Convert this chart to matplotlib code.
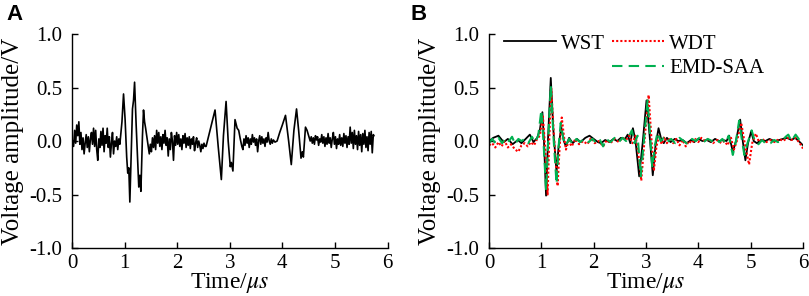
import matplotlib
matplotlib.use("Agg")
import matplotlib.pyplot as plt
from matplotlib.lines import Line2D

# ---------------- data ----------------
# Panel A: raw signal (time in us, voltage in V)
tA = [0.00, 0.03, 0.05, 0.07, 0.09, 0.11, 0.13, 0.15, 0.17, 0.19, 0.21, 0.23, 0.25, 0.27, 0.29,
      0.31, 0.33, 0.35, 0.37, 0.39, 0.41, 0.43, 0.45, 0.47, 0.49, 0.51, 0.53, 0.55, 0.57, 0.59,
      0.61, 0.63, 0.65, 0.67, 0.69, 0.71, 0.73, 0.75, 0.77, 0.79, 0.81, 0.83, 0.85, 0.87, 0.89,
      0.91, 0.95, 0.98, 1.01, 1.04, 1.06, 1.08, 1.10, 1.13, 1.15, 1.17, 1.19, 1.22, 1.25, 1.27,
      1.29, 1.31, 1.34, 1.36, 1.38, 1.40, 1.42, 1.45, 1.47, 1.49, 1.51, 1.53, 1.55, 1.57, 1.59,
      1.61, 1.63, 1.65, 1.67, 1.69, 1.71, 1.73, 1.75, 1.77, 1.79, 1.81, 1.83, 1.85, 1.87, 1.89,
      1.91, 1.93, 1.95, 1.97, 1.99, 2.01, 2.03, 2.05, 2.07, 2.09, 2.11, 2.13, 2.15, 2.17, 2.19,
      2.21, 2.23, 2.25, 2.27, 2.29, 2.31, 2.33, 2.35, 2.37, 2.39, 2.41, 2.43, 2.45, 2.47, 2.49,
      2.51, 2.53, 2.55, 2.60, 2.65, 2.72, 2.78, 2.84, 2.88, 2.93, 2.97, 3.01, 3.03, 3.06, 3.10,
      3.14, 3.17, 3.20, 3.23, 3.25, 3.27, 3.29, 3.31, 3.33, 3.35, 3.37, 3.39, 3.41, 3.43, 3.45,
      3.47, 3.49, 3.51, 3.53, 3.55, 3.57, 3.59, 3.61, 3.63, 3.65, 3.67, 3.69, 3.71, 3.73, 3.75,
      3.77, 3.79, 3.81, 3.83, 3.86, 3.90, 3.95, 4.00, 4.06, 4.12, 4.17, 4.22, 4.27, 4.31, 4.355,
      4.38, 4.40, 4.44, 4.47, 4.50, 4.53, 4.55, 4.57, 4.59, 4.61, 4.63, 4.65, 4.67, 4.69, 4.71,
      4.73, 4.75, 4.77, 4.79, 4.81, 4.83, 4.85, 4.87, 4.89, 4.91, 4.93, 4.95, 4.97, 4.99, 5.01,
      5.03, 5.05, 5.07, 5.09, 5.11, 5.13, 5.15, 5.17, 5.19, 5.21, 5.23, 5.25, 5.27, 5.29, 5.31,
      5.33, 5.35, 5.37, 5.39, 5.41, 5.43, 5.45, 5.47, 5.49, 5.51, 5.53, 5.55, 5.57, 5.59, 5.61,
      5.63, 5.65, 5.67, 5.69, 5.71, 5.73, 5.74]
vA = [0.02, -0.05, 0.10, -0.02, 0.15, 0.05, 0.18, -0.03, 0.08, -0.08, 0.03, -0.12, -0.02, 0.06, -0.06,
      0.04, -0.10, 0.02, 0.08, -0.03, 0.12, -0.05, 0.10, -0.08, -0.18, 0.02, -0.06, 0.09, -0.04, 0.12,
      -0.10, 0.05, -0.02, 0.12, -0.06, 0.04, -0.15, -0.02, 0.08, -0.12, 0.00, -0.05, 0.04, -0.08, 0.02,
      -0.03, 0.18, 0.44, 0.20, -0.15, -0.30, -0.25, -0.57, -0.05, 0.30, 0.38, 0.55, 0.15, -0.20, -0.43,
      -0.32, -0.47, 0.05, 0.29, 0.18, 0.12, 0.05, -0.05, -0.12, -0.03, -0.10, 0.03, -0.06, 0.05, -0.08,
      0.10, -0.02, 0.08, -0.05, 0.04, -0.08, 0.06, -0.02, 0.10, -0.04, 0.03, -0.14, 0.02, -0.08, 0.08,
      0.00, -0.18, 0.05, -0.04, 0.08, -0.03, 0.06, -0.05, 0.02, -0.08, 0.05, -0.02, 0.07, -0.06, 0.03,
      -0.04, 0.04, -0.07, 0.02, -0.03, 0.04, -0.09, -0.02, 0.03, -0.06, 0.00, -0.04, -0.10, -0.03, -0.07,
      -0.02, -0.05, -0.05, 0.05, 0.15, 0.29, -0.05, -0.36, 0.05, 0.37, 0.00, -0.24, -0.20, -0.28, 0.20,
      0.12, 0.10, 0.02, -0.05, -0.08, 0.02, -0.04, 0.05, -0.02, 0.03, -0.06, 0.02, -0.03, 0.06, -0.01,
      0.03, -0.04, 0.02, -0.10, 0.00, 0.05, -0.03, 0.04, -0.02, 0.02, -0.05, 0.03, -0.01, 0.08, 0.00,
      -0.03, 0.02, -0.02, 0.01, -0.01, 0.00, 0.08, 0.15, 0.24, 0.00, -0.22, 0.10, 0.30, 0.10, -0.16,
      -0.10, -0.15, 0.13, 0.10, 0.05, 0.00, 0.04, -0.02, 0.03, -0.03, 0.05, 0.01, 0.04, -0.04, 0.02,
      -0.01, 0.06, -0.02, 0.04, -0.05, 0.03, -0.03, 0.07, -0.02, 0.03, -0.06, 0.02, 0.08, -0.03, 0.04,
      -0.07, 0.02, -0.03, 0.06, -0.04, 0.03, -0.05, 0.07, -0.02, 0.05, -0.06, 0.04, -0.03, 0.13, -0.02,
      0.08, -0.07, 0.10, -0.03, 0.05, -0.08, 0.09, -0.04, 0.06, -0.10, 0.07, -0.03, 0.10, -0.06, 0.04,
      -0.09, 0.08, -0.03, 0.09, -0.11, 0.06, 0.05]

# Panel B: denoised signals
t_wst = [0.00, 0.08, 0.18, 0.28, 0.36, 0.45, 0.55, 0.62, 0.70, 0.78, 0.85, 0.92, 0.97, 1.02, 1.05,
         1.09, 1.13, 1.18, 1.23, 1.29, 1.33, 1.38, 1.43, 1.47, 1.53, 1.60, 1.68, 1.75, 1.84, 1.92,
         2.00, 2.08, 2.14, 2.22, 2.30, 2.38, 2.45, 2.52, 2.60, 2.65, 2.70, 2.75, 2.80, 2.87, 2.94,
         3.01, 3.07, 3.13, 3.18, 3.24, 3.29, 3.34, 3.40, 3.47, 3.55, 3.62, 3.70, 3.78, 3.86, 3.92,
         4.00, 4.08, 4.16, 4.24, 4.32, 4.40, 4.47, 4.54, 4.59, 4.66, 4.72, 4.80, 4.85, 4.90, 4.95,
         5.01, 5.06, 5.12, 5.20, 5.28, 5.36, 5.45, 5.55, 5.62, 5.70, 5.78, 5.85, 5.92, 6.00]
v_wst = [0.00, 0.03, 0.05, -0.01, 0.02, -0.03, 0.01, -0.02, 0.02, 0.06, -0.01, 0.03, 0.10, 0.27, 0.00,
         -0.51, 0.05, 0.59, 0.10, -0.29, -0.05, 0.13, 0.00, -0.05, 0.03, -0.02, 0.02, -0.01, 0.03, 0.05,
         0.02, -0.01, -0.02, 0.01, -0.01, 0.02, 0.00, 0.03, 0.02, 0.06, -0.02, 0.12, 0.00, -0.33, 0.00,
         0.38, 0.05, -0.32, -0.05, 0.12, 0.02, -0.02, 0.03, -0.01, 0.02, 0.00, 0.01, -0.02, 0.01, -0.01,
         0.02, 0.00, 0.01, -0.01, 0.02, 0.00, 0.01, 0.00, 0.05, -0.10, 0.00, 0.20, 0.00, -0.18, -0.02,
         0.09, 0.00, -0.02, 0.01, 0.00, 0.02, 0.00, 0.01, 0.02, 0.03, 0.01, 0.03, 0.00, -0.04]

t_wdt = [0.00, 0.06, 0.12, 0.18, 0.24, 0.30, 0.36, 0.42, 0.50, 0.56, 0.62, 0.68, 0.74, 0.80, 0.86,
         0.92, 0.97, 1.03, 1.07, 1.12, 1.15, 1.19, 1.24, 1.31, 1.35, 1.39, 1.43, 1.47, 1.52, 1.58,
         1.65, 1.72, 1.80, 1.88, 1.95, 2.02, 2.10, 2.18, 2.25, 2.32, 2.40, 2.48, 2.55, 2.62, 2.68,
         2.74, 2.80, 2.85, 2.91, 2.97, 3.05, 3.10, 3.15, 3.20, 3.25, 3.30, 3.35, 3.40, 3.46, 3.52,
         3.58, 3.64, 3.70, 3.76, 3.82, 3.88, 3.94, 4.00, 4.06, 4.12, 4.20, 4.28, 4.36, 4.44, 4.50,
         4.56, 4.62, 4.68, 4.75, 4.82, 4.88, 4.92, 4.97, 5.03, 5.10, 5.16, 5.22, 5.30, 5.38, 5.46,
         5.55, 5.62, 5.70, 5.78, 5.86, 5.94, 6.00]
v_wdt = [-0.04, -0.02, -0.06, -0.01, -0.05, 0.00, -0.06, -0.03, -0.08, -0.10, -0.04, -0.02, -0.05, -0.01, -0.04,
         0.02, 0.05, 0.23, -0.05, -0.50, 0.00, 0.49, 0.05, -0.42, -0.05, 0.22, 0.05, -0.08, 0.00, -0.05,
         0.02, -0.03, 0.00, -0.03, 0.03, -0.02, 0.00, -0.05, 0.01, -0.02, 0.02, -0.01, 0.03, 0.01, 0.05,
         -0.02, 0.05, -0.10, -0.37, 0.00, 0.43, 0.05, -0.28, -0.05, 0.05, -0.03, 0.04, -0.02, 0.03, -0.02,
         0.02, -0.04, 0.01, -0.05, 0.00, -0.02, 0.02, -0.01, 0.03, 0.00, 0.02, -0.02, 0.01, -0.02, 0.00,
         -0.04, 0.04, -0.08, 0.02, 0.17, 0.00, -0.10, -0.22, -0.02, 0.07, -0.01, 0.02, -0.01, 0.01, -0.01,
         0.02, 0.00, 0.03, 0.01, 0.03, -0.02, -0.07]

t_emd = [0.00, 0.06, 0.12, 0.18, 0.25, 0.32, 0.38, 0.44, 0.50, 0.56, 0.62, 0.68, 0.75, 0.82, 0.88,
         0.94, 1.00, 1.04, 1.09, 1.13, 1.18, 1.23, 1.29, 1.33, 1.37, 1.42, 1.47, 1.53, 1.60, 1.67,
         1.74, 1.82, 1.90, 1.98, 2.05, 2.12, 2.18, 2.24, 2.32, 2.40, 2.48, 2.55, 2.62, 2.68, 2.73,
         2.78, 2.84, 2.90, 2.96, 3.03, 3.08, 3.12, 3.17, 3.22, 3.28, 3.34, 3.40, 3.48, 3.56, 3.64,
         3.72, 3.80, 3.88, 3.95, 4.02, 4.10, 4.18, 4.26, 4.34, 4.40, 4.46, 4.52, 4.58, 4.66, 4.72,
         4.78, 4.83, 4.88, 4.94, 5.02, 5.08, 5.15, 5.22, 5.30, 5.38, 5.45, 5.52, 5.60, 5.67, 5.72,
         5.78, 5.86, 5.92, 6.00]
v_emd = [-0.02, 0.02, -0.02, 0.03, -0.02, 0.03, 0.00, 0.04, -0.03, 0.02, 0.00, 0.02, -0.02, 0.04, -0.01,
         0.05, 0.29, 0.00, -0.46, 0.00, 0.52, 0.05, -0.40, -0.05, 0.17, 0.02, -0.04, 0.02, -0.03, 0.02,
         -0.01, 0.02, -0.01, 0.02, -0.02, 0.01, -0.05, 0.02, -0.01, 0.03, -0.01, 0.03, 0.00, 0.05, 0.10,
         -0.02, 0.05, -0.33, 0.00, 0.38, 0.05, -0.25, -0.04, 0.08, 0.00, 0.03, -0.01, 0.02, -0.02, 0.03,
         0.00, -0.03, 0.02, 0.00, 0.03, -0.01, 0.02, 0.00, 0.02, -0.01, 0.02, -0.02, 0.05, -0.13, 0.00,
         0.19, 0.02, -0.13, -0.02, 0.10, 0.00, -0.03, 0.01, -0.03, -0.02, 0.01, -0.01, 0.00, 0.04, 0.06,
         0.00, 0.06, 0.02, -0.04]

xticks = [0, 1, 2, 3, 4, 5, 6]
yticks = [-1.0, -0.5, 0.0, 0.5, 1.0]
ytick_labels = ["-1.0", "-0.5", "0.0", "0.5", "1.0"]

# ---------------- plot ----------------
plt.rcParams['font.family'] = ['Liberation Serif', 'DejaVu Serif']
plt.rcParams['mathtext.fontset'] = 'stix'

fig = plt.figure(figsize=(8.09, 2.96), dpi=100)
axA = fig.add_axes([0.089, 0.162, 0.390, 0.723])
axB = fig.add_axes([0.6045, 0.162, 0.388, 0.723])

FS = 15
LFS = 17

def style(ax):
    ax.set_xlim(0, 6)
    ax.set_ylim(-1.0, 1.0)
    ax.set_xticks(xticks)
    ax.set_yticks(yticks)
    ax.set_yticklabels(ytick_labels)
    ax.spines['top'].set_visible(False)
    ax.spines['right'].set_visible(False)
    for s in ('left', 'bottom'):
        ax.spines[s].set_linewidth(1.0)
    ax.tick_params(direction='in', length=4, width=1.0, labelsize=FS)
    ax.tick_params(axis='y', pad=7)
    ax.tick_params(axis='x', pad=4)
    ax.set_xlabel(r'Time/$\mathit{\mu s}$', fontsize=LFS, labelpad=-1)
    ax.set_ylabel('Voltage amplitude/V', fontsize=18, labelpad=4)

axA.plot(tA, vA, color='black', lw=1.2)
style(axA)

l1, = axB.plot(t_wst, v_wst, color='black', lw=1.3, label='WST')
l2, = axB.plot(t_wdt, v_wdt, color='#ff0000', lw=1.5, ls=(0, (1, 1)), label='WDT')
l3, = axB.plot(t_emd, v_emd, color='#00b050', lw=1.5, ls=(0, (5, 3)), label='EMD-SAA')
style(axB)

blank = Line2D([], [], color='none')
axB.legend([l1, blank, l2, l3], ['WST', '', 'WDT', 'EMD-SAA'], ncol=2, frameon=False,
           fontsize=FS, loc='upper left', bbox_to_anchor=(0.048, 1.0),
           handlelength=2.5, handletextpad=0.25, columnspacing=0.3, labelspacing=0.25,
           borderaxespad=0.0, borderpad=0.0)

fig.text(0.008, 0.985, 'A', fontsize=16, fontweight='bold', family='Liberation Sans', va='top')
fig.text(0.507, 0.985, 'B', fontsize=16, fontweight='bold', family='Liberation Sans', va='top')

fig.savefig('out.png', dpi=100)
